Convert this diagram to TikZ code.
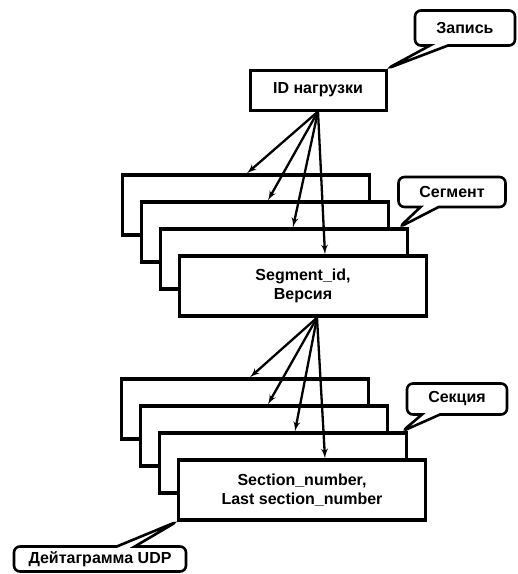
\documentclass[tikz,border=0pt]{standalone}
\usepackage{fontspec}
\setmainfont{Liberation Sans}
\usetikzlibrary{arrows, shapes.callouts}

\begin{document}
\begin{tikzpicture}[x=1pt, y=-1pt]

\tikzset{frame/.style = {shape=rectangle, draw, fill=white, line width=3.4pt, minimum width=247pt, minimum height=60pt, align=center, font=\fontsize{16}{19}\selectfont\bfseries}}
\tikzset{idbox/.style = {frame, line width=3pt, minimum width=136pt, minimum height=40pt}}
\tikzset{note/.style = {shape=rectangle callout, draw, fill=white, rounded corners=6pt, line width=2.6pt, callout pointer width=18pt, inner sep=2pt, font=\fontsize{16}{19}\selectfont\bfseries}}
\tikzset{edge/.style = {->, > = latex', line width=2.3pt}}

\useasboundingbox (0,0) rectangle (518,574);
%boxes
\node[idbox] (id) at (318,90) {ID нагрузки};
\node[frame] (seg1) at (246,205) {};
\node[frame] (seg2) at (265,232) {};
\node[frame] (seg3) at (284,259) {};
\node[frame] (seg4) at (303,286) {Segment\_id,\\Версия};
\node[frame] (sec1) at (245,409) {};
\node[frame] (sec2) at (264,436) {};
\node[frame] (sec3) at (283,463) {};
\node[frame] (sec4) at (302,490) {Section\_number,\\Last section\_number};
%edges
\draw [edge] (id.south) -- ([xshift=1pt]seg1.north);
\draw [edge] (id.south) -- ([xshift=3pt]seg2.north);
\draw [edge] (id.south) -- ([xshift=9pt]seg3.north);
\draw [edge] (id.south) -- ([xshift=22pt]seg4.north);
\draw [edge] ([xshift=14pt]seg4.south) -- ([xshift=5pt]sec1.north);
\draw [edge] ([xshift=14pt]seg4.south) -- ([xshift=4pt]sec2.north);
\draw [edge] ([xshift=14pt]seg4.south) -- ([xshift=12pt]sec3.north);
\draw [edge] ([xshift=14pt]seg4.south) -- ([xshift=23pt]sec4.north);
%notes
\node[note, minimum width=100pt, minimum height=35pt, callout absolute pointer={(id.north east)}] (rec) at (465,28) {Запись};
\node[note, minimum width=107pt, minimum height=30pt, callout absolute pointer={([xshift=-10pt]seg3.north east)}] (segnote) at (452,192) {Сегмент};
\node[note, minimum width=100pt, minimum height=31pt, callout absolute pointer={([xshift=-6pt]sec3.north east)}] (secnote) at (457,399) {Секция};
\node[note, minimum width=172pt, minimum height=25pt, callout absolute pointer={(sec4.south west)}] (udp) at (100,559) {Дейтаграмма UDP};

\end{tikzpicture}
\end{document}
